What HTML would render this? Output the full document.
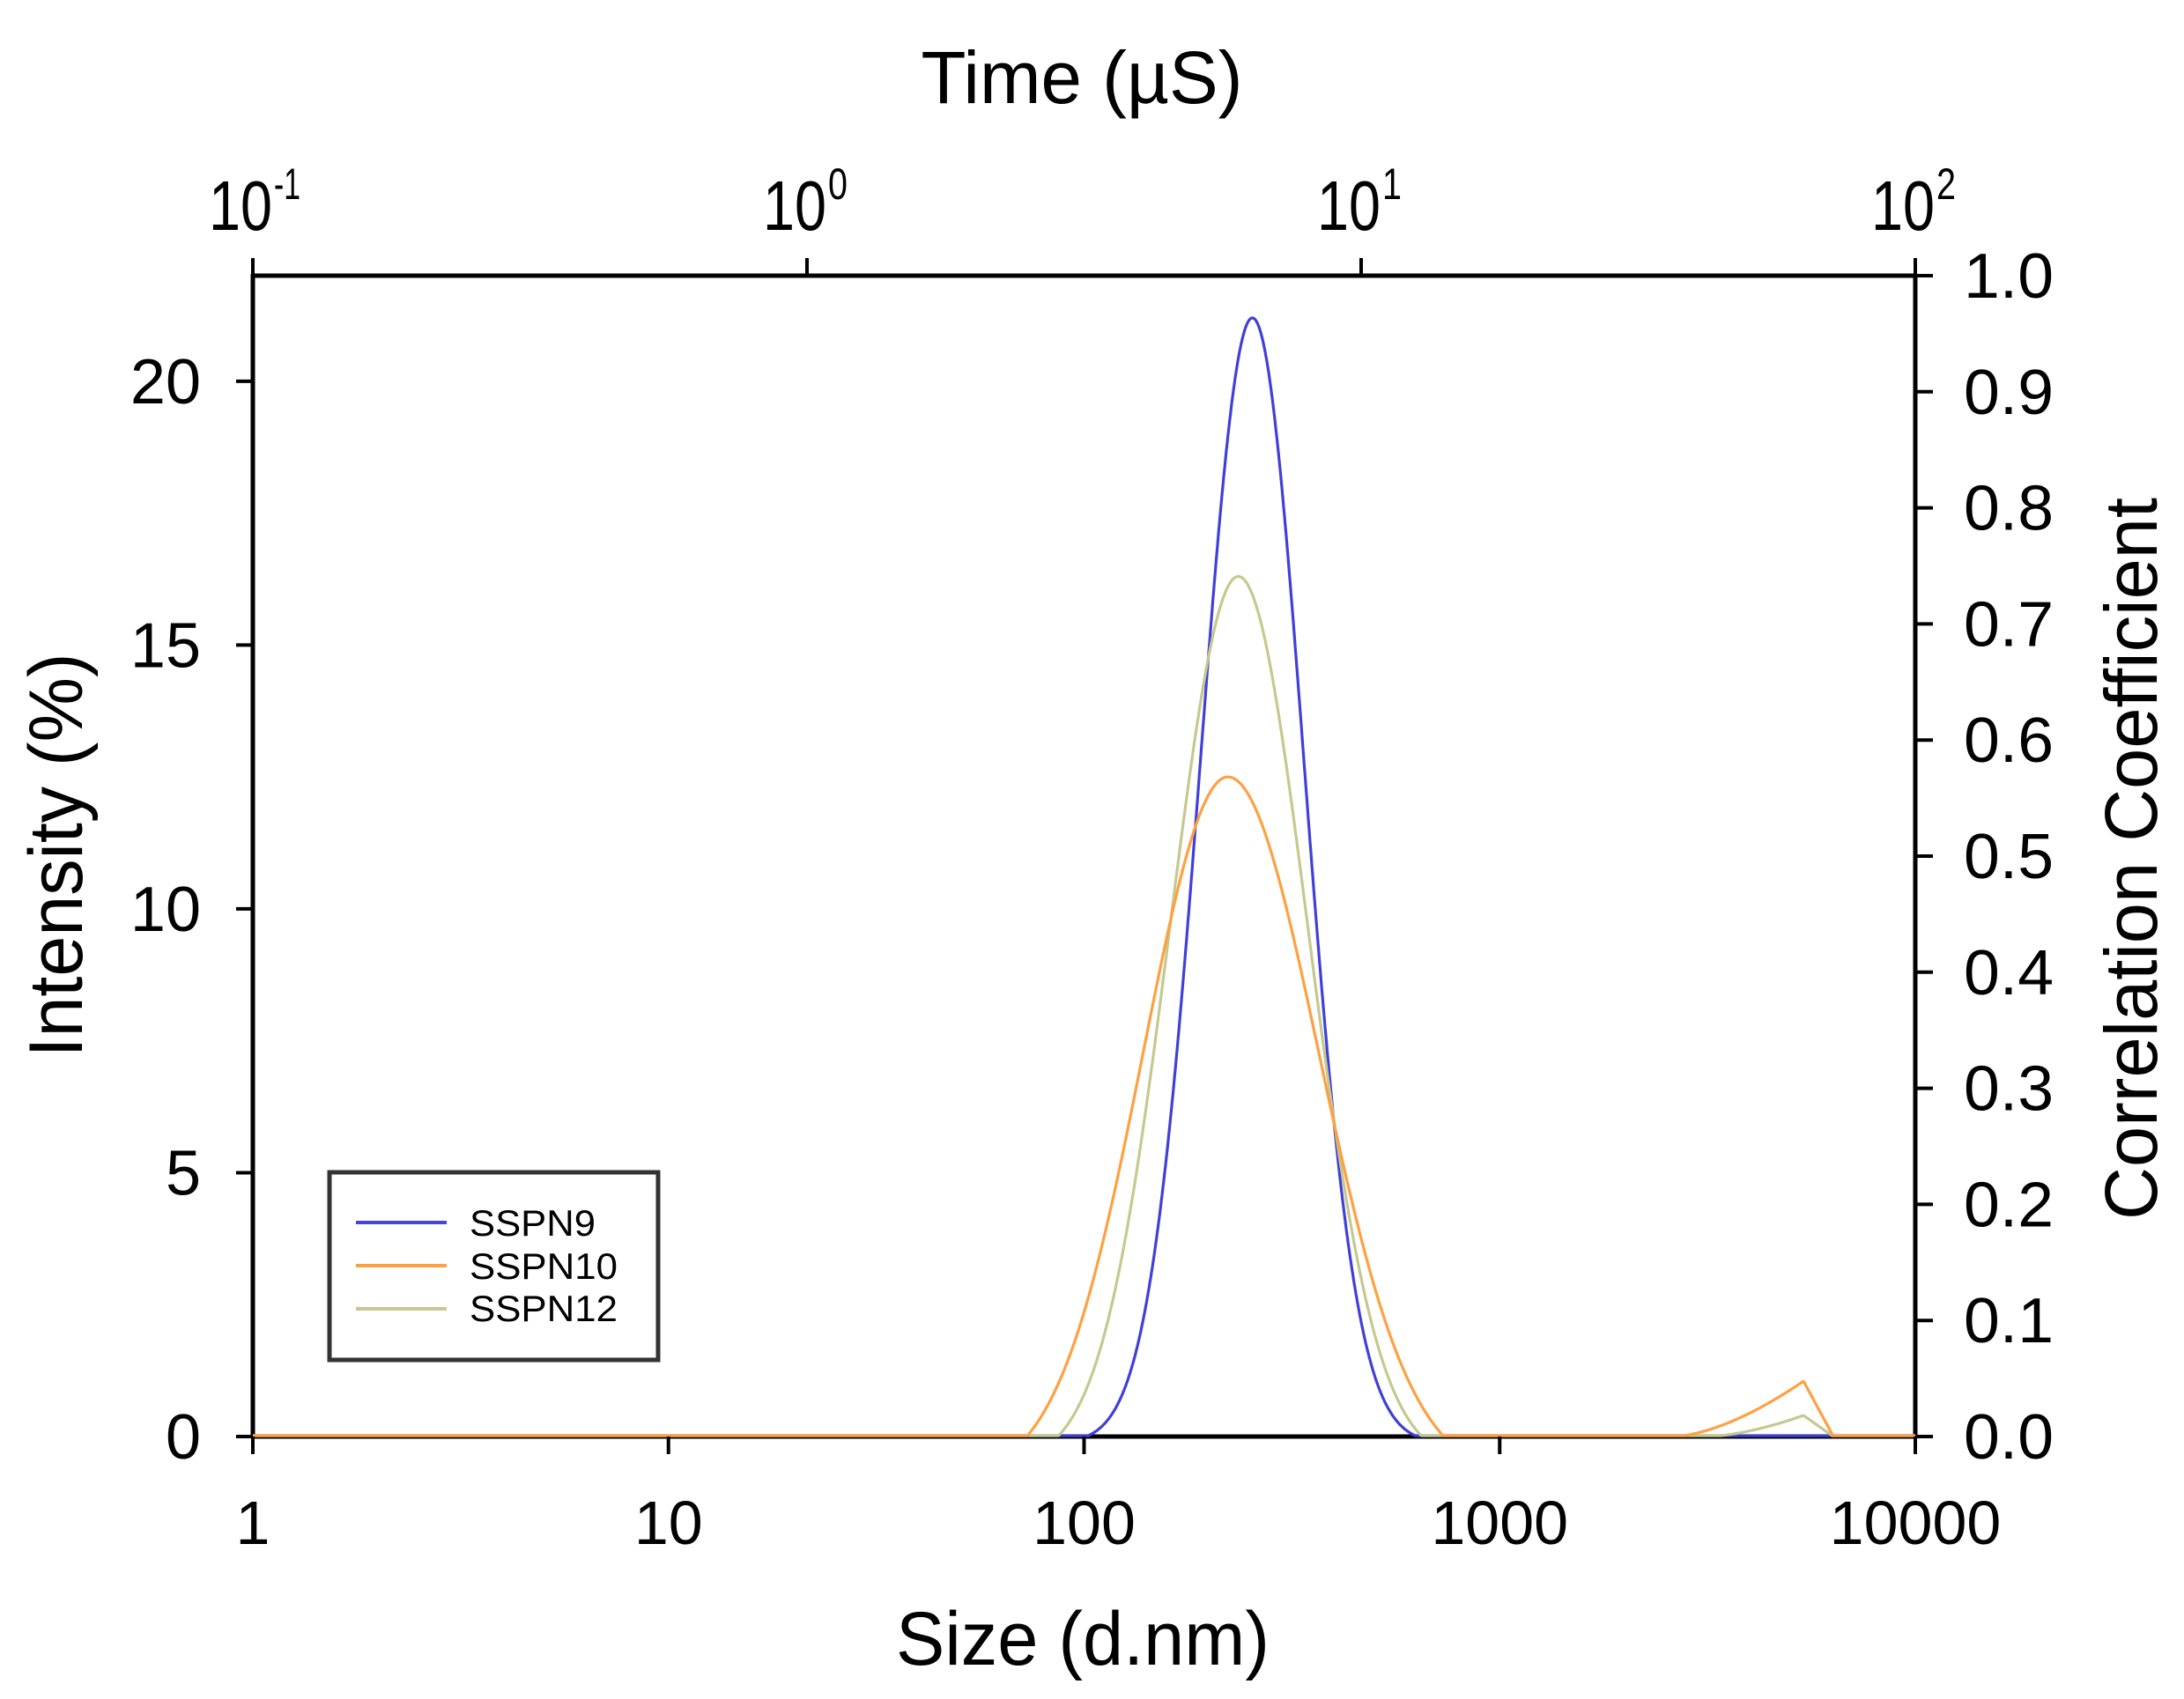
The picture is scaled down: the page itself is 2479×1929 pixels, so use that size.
<!DOCTYPE html>
<html><head><meta charset="utf-8"><style>
html,body{margin:0;padding:0;background:#fff;}
svg{display:block;}
text{font-family:"Liberation Sans",Arial,sans-serif;fill:#000;}
</style></head><body>
<svg id="s" width="2479" height="1929" viewBox="0 0 2479 1929" xmlns="http://www.w3.org/2000/svg">
<rect width="2479" height="1929" fill="#fff"/>
<!-- axes -->
<g stroke="#000" stroke-width="5" fill="none">
<line x1="287" y1="313" x2="2174" y2="313"/>
<line x1="287" y1="1631" x2="2174" y2="1631"/>
<line x1="287" y1="311" x2="287" y2="1633"/>
<line x1="2174" y1="311" x2="2174" y2="1633"/>
</g>
<g id="curves"></g>
<g id="ticks" stroke="#000" stroke-width="4"></g>
<g id="labels" font-size="70"></g>
<text x="1228" y="117" font-size="84" text-anchor="middle" textLength="365" lengthAdjust="spacingAndGlyphs">Time (µS)</text>
<text x="1229" y="1890" font-size="86" text-anchor="middle" textLength="424" lengthAdjust="spacingAndGlyphs">Size (d.nm)</text>
<text transform="translate(93,971) rotate(-90)" font-size="86" text-anchor="middle" textLength="459" lengthAdjust="spacingAndGlyphs">Intensity (%)</text>
<text transform="translate(2448,975) rotate(-90)" font-size="84" text-anchor="middle" textLength="820" lengthAdjust="spacingAndGlyphs">Correlation Coefficient</text>
<!-- legend -->
<rect x="374" y="1331" width="373" height="213" fill="#fff" stroke="#333" stroke-width="5"/>
<line x1="404" y1="1388" x2="507" y2="1388" stroke="#4545d8" stroke-width="4"/>
<line x1="404" y1="1437" x2="507" y2="1437" stroke="#ffa040" stroke-width="4"/>
<line x1="404" y1="1486" x2="507" y2="1486" stroke="#c5c98f" stroke-width="4"/>
<text x="533" y="1403" font-size="42" textLength="143" lengthAdjust="spacingAndGlyphs">SSPN9</text>
<text x="533" y="1452" font-size="42" textLength="168" lengthAdjust="spacingAndGlyphs">SSPN10</text>
<text x="533" y="1500" font-size="42" textLength="168" lengthAdjust="spacingAndGlyphs">SSPN12</text>
</svg>
<script>
const NS="http://www.w3.org/2000/svg";
const L=287,R=2174,T=313,B=1631;
const dec=(R-L)/4, uy=(B-T)/22;
const X=d=>L+d*dec, Y=v=>B-v*uy;
function el(p,tag,a,txt){const e=document.createElementNS(NS,tag);for(const k in a)e.setAttribute(k,a[k]);if(txt!==undefined)e.textContent=txt;p.appendChild(e);return e;}
function main(d,mu,sl,sr,A,c){const s=d<mu?sl:sr;const g=Math.exp(-(d-mu)*(d-mu)/(2*s*s));return Math.max(0,A*(g-c)/(1-c));}
function bump(d,pk,st,en,A){if(d<=st||d>=en)return 0;if(d<=pk){const t=(d-st)/(pk-st);return A*Math.pow(t,1.6);}return A*(en-d)/(en-pk);}
const series=[
 {col:"#4040d8",f:d=>main(d,2.405,0.125,0.124,21.2,0.006)},
 {col:"#c5c98f",f:d=>main(d,2.371,0.164,0.167,16.3,0.03)+bump(d,3.731,3.5,3.803,0.4)},
 {col:"#ffa040",f:d=>main(d,2.346,0.204,0.219,12.5,0.06)+bump(d,3.731,3.42,3.803,1.05)}
];
const cg=document.getElementById("curves");
for(const s of series){let p="";for(let i=0;i<=2000;i++){const d=4*i/2000;p+=(i?"L":"M")+X(d).toFixed(1)+","+Math.min(Y(s.f(d)),B-1).toFixed(1);}
 el(cg,"path",{d:p,fill:"none",stroke:s.col,"stroke-width":3.2,"stroke-linejoin":"round"});}
const tg=document.getElementById("ticks"),lg=document.getElementById("labels");
for(let v=0;v<=20;v+=5){const y=Y(v);el(tg,"line",{x1:268,y1:y,x2:287,y2:y});el(lg,"text",{x:228,y:y+25,"text-anchor":"end","font-size":72},String(v));}
for(let i=0;i<=10;i++){const y=B-(B-T)*i/10;el(tg,"line",{x1:2174,y1:y,x2:2194,y2:y});el(lg,"text",{x:2229,y:y+25,"font-size":72,textLength:102,lengthAdjust:"spacingAndGlyphs"},(i/10).toFixed(1));}
const bl=["1","10","100","1000","10000"];
for(let i=0;i<=4;i++){const x=X(i);el(tg,"line",{x1:x,y1:1631,x2:x,y2:1651});el(lg,"text",{x:x,y:1753,"text-anchor":"middle","font-size":70},bl[i]);}
const sup=["-1","0","1","2"];
for(let i=0;i<=3;i++){const x=L+(R-L)*i/3;el(tg,"line",{x1:x,y1:293,x2:x,y2:313});
 el(lg,"text",{x:x-50,y:261,"font-size":80,textLength:72,lengthAdjust:"spacingAndGlyphs"},"10");
 el(lg,"text",{x:x+24,y:226,"font-size":50,textLength:(i==0?30:22),lengthAdjust:"spacingAndGlyphs"},sup[i]);}
</script>
</body></html>
